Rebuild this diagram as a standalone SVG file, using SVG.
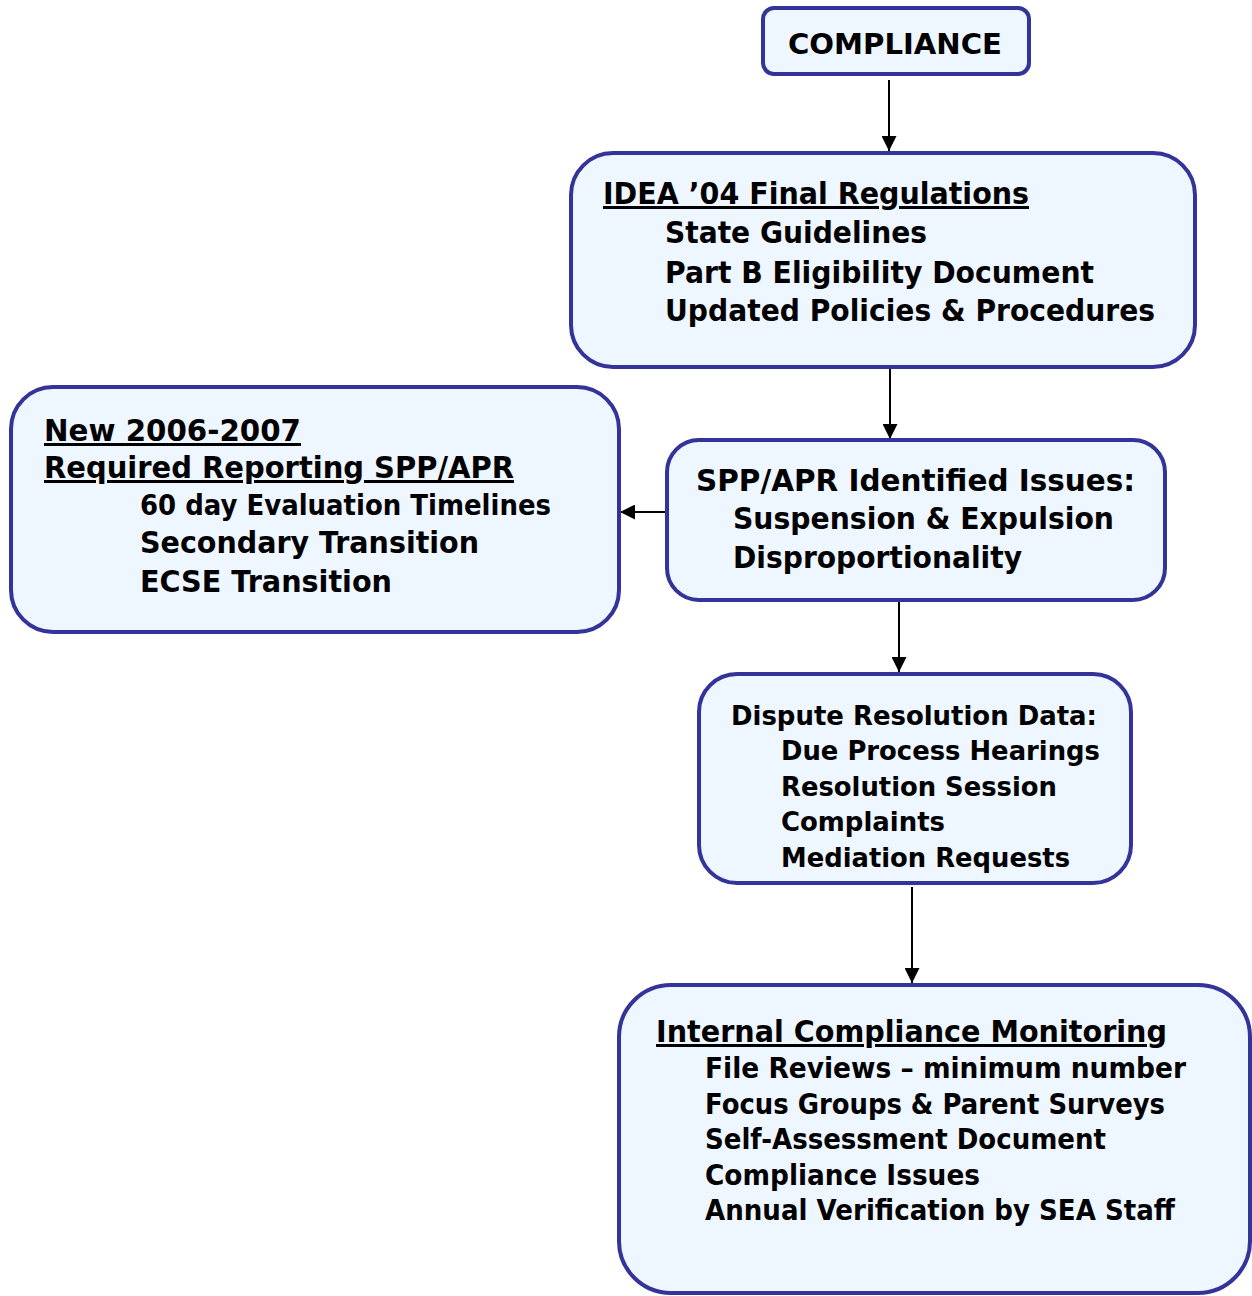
<svg xmlns="http://www.w3.org/2000/svg" width="1252" height="1296" viewBox="0 0 1252 1296">
<defs>
<style>
.box{fill:#EEF6FF;stroke:#333399;stroke-width:4}
.t{font-family:"DejaVu Sans","Liberation Sans",sans-serif;font-weight:bold;fill:#000}
.u{text-decoration:underline}
.c{stroke:#000;stroke-width:2;fill:none}
</style>
<marker id="ah" viewBox="0 0 15 15" refX="15" refY="7.5" markerWidth="15" markerHeight="15" markerUnits="userSpaceOnUse" orient="auto">
<path d="M0,0 L15,7.5 L0,15 Z" fill="#000"/>
</marker>
</defs>
<rect width="1252" height="1296" fill="#fff"/>
<g id="connectors">
<line class="c" x1="889" y1="80" x2="889" y2="151" marker-end="url(#ah)"/>
<line class="c" x1="890" y1="369" x2="890" y2="439" marker-end="url(#ah)"/>
<line class="c" x1="666" y1="512" x2="620" y2="512" marker-end="url(#ah)"/>
<line class="c" x1="899" y1="602" x2="899" y2="672" marker-end="url(#ah)"/>
<line class="c" x1="912" y1="887" x2="912" y2="983" marker-end="url(#ah)"/>
</g>
<g id="n-compliance">
<rect class="box" x="763" y="8" width="266" height="66" rx="11"/>
<text class="t" x="788" y="54" font-size="29" textLength="214" lengthAdjust="spacingAndGlyphs">COMPLIANCE</text>
</g>
<g id="n-idea">
<rect class="box" x="571" y="153" width="624" height="214" rx="42"/>
<text class="t u" x="603" y="204" font-size="30" textLength="426" lengthAdjust="spacingAndGlyphs">IDEA ’04 Final Regulations</text>
<text class="t" x="665" y="243" font-size="30" textLength="262" lengthAdjust="spacingAndGlyphs">State Guidelines</text>
<text class="t" x="665" y="283" font-size="30" textLength="429" lengthAdjust="spacingAndGlyphs">Part B Eligibility Document</text>
<text class="t" x="665" y="321" font-size="30" textLength="490" lengthAdjust="spacingAndGlyphs">Updated Policies &amp; Procedures</text>
</g>
<g id="n-new">
<rect class="box" x="11" y="387" width="608" height="245" rx="42"/>
<text class="t u" x="44" y="441" font-size="30" textLength="257" lengthAdjust="spacingAndGlyphs">New 2006-2007</text>
<text class="t u" x="44" y="478" font-size="30" textLength="470" lengthAdjust="spacingAndGlyphs">Required Reporting SPP/APR</text>
<text class="t" x="140" y="515" font-size="28" textLength="411" lengthAdjust="spacingAndGlyphs">60 day Evaluation Timelines</text>
<text class="t" x="140" y="553" font-size="30" textLength="339" lengthAdjust="spacingAndGlyphs">Secondary Transition</text>
<text class="t" x="140" y="592" font-size="30" textLength="252" lengthAdjust="spacingAndGlyphs">ECSE Transition</text>
</g>
<g id="n-spp">
<rect class="box" x="667" y="440" width="498" height="160" rx="32"/>
<text class="t" x="696" y="491" font-size="30" textLength="439" lengthAdjust="spacingAndGlyphs">SPP/APR Identified Issues:</text>
<text class="t" x="733" y="529" font-size="30" textLength="381" lengthAdjust="spacingAndGlyphs">Suspension &amp; Expulsion</text>
<text class="t" x="733" y="568" font-size="30" textLength="289" lengthAdjust="spacingAndGlyphs">Disproportionality</text>
</g>
<g id="n-dispute">
<rect class="box" x="699" y="674" width="432" height="209" rx="38"/>
<text class="t" x="731" y="725" font-size="27" textLength="366" lengthAdjust="spacingAndGlyphs">Dispute Resolution Data:</text>
<text class="t" x="781" y="760" font-size="27" textLength="319" lengthAdjust="spacingAndGlyphs">Due Process Hearings</text>
<text class="t" x="781" y="796" font-size="27" textLength="276" lengthAdjust="spacingAndGlyphs">Resolution Session</text>
<text class="t" x="781" y="831" font-size="27" textLength="164" lengthAdjust="spacingAndGlyphs">Complaints</text>
<text class="t" x="781" y="867" font-size="27" textLength="289" lengthAdjust="spacingAndGlyphs">Mediation Requests</text>
</g>
<g id="n-internal">
<rect class="box" x="619" y="985" width="631" height="308" rx="52"/>
<text class="t u" x="656" y="1042" font-size="30" textLength="511" lengthAdjust="spacingAndGlyphs">Internal Compliance Monitoring</text>
<text class="t" x="705" y="1078" font-size="28" textLength="481" lengthAdjust="spacingAndGlyphs">File Reviews – minimum number</text>
<text class="t" x="705" y="1114" font-size="28" textLength="460" lengthAdjust="spacingAndGlyphs">Focus Groups &amp; Parent Surveys</text>
<text class="t" x="705" y="1149" font-size="28" textLength="401" lengthAdjust="spacingAndGlyphs">Self-Assessment Document</text>
<text class="t" x="705" y="1185" font-size="28" textLength="275" lengthAdjust="spacingAndGlyphs">Compliance Issues</text>
<text class="t" x="705" y="1220" font-size="28" textLength="470" lengthAdjust="spacingAndGlyphs">Annual Verification by SEA Staff</text>
</g>
</svg>
